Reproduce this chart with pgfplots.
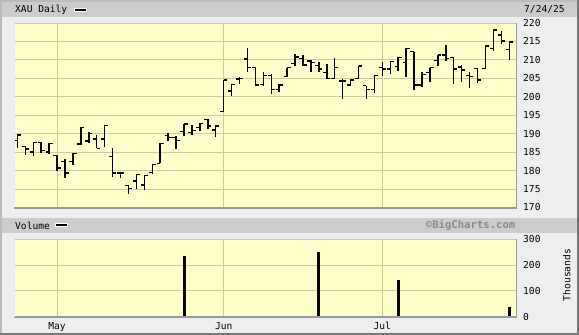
\documentclass[border=0pt]{standalone}
\usepackage{fontspec}
\setmainfont{DejaVu Sans}
\setmonofont{DejaVu Sans Mono}
\usepackage{pgfplots}
\pgfplotsset{compat=1.18}
\usepackage{pgfplotstable}
\definecolor{bgout}{HTML}{EEEEEE}
\definecolor{strip}{HTML}{CCCCCC}
\definecolor{plotbg}{HTML}{FFFFCC}
\definecolor{gridc}{HTML}{CCCC99}
\definecolor{framed}{HTML}{9A9A9A}
\definecolor{wm}{HTML}{8A8A8A}
\definecolor{edgelight}{HTML}{BBBBBB}
\definecolor{edgedark}{HTML}{777777}

\pgfdeclareplotmark{otick}{\pgfpathmoveto{\pgfqpoint{-3.6pt}{0pt}}\pgfpathlineto{\pgfqpoint{0pt}{0pt}}\pgfusepathqstroke}
\pgfdeclareplotmark{ctick}{\pgfpathmoveto{\pgfqpoint{0pt}{0pt}}\pgfpathlineto{\pgfqpoint{3.6pt}{0pt}}\pgfusepathqstroke}

\newcommand{\tf}{\ttfamily\fontsize{9.6}{10}\selectfont}

\pgfplotstableread{
i o h l c
0 188.2 189.8 186.1 189.6
1 186.5 186.7 184.3 185.8
2 185.0 187.8 184.0 187.6
3 187.6 187.8 184.8 185.4
4 185.0 187.5 184.4 187.4
5 184.1 184.1 179.8 180.7
6 182.5 183.1 177.9 179.4
7 182.4 184.7 181.5 184.6
8 187.2 191.7 186.9 191.6
9 188.0 190.5 187.4 190.1
10 188.6 189.7 186.0 186.0
11 188.6 192.3 186.5 192.3
12 183.9 186.0 178.4 179.4
13 179.4 179.7 177.9 179.4
14 176.0 176.1 173.6 175.2
15 177.2 178.9 175.0 178.9
16 176.1 178.6 174.8 178.6
17 179.5 181.7 179.0 181.7
18 182.0 187.4 182.0 187.4
19 189.5 190.3 188.1 189.0
20 189.0 189.4 185.8 188.1
21 190.6 192.6 189.4 192.6
22 190.3 192.3 189.7 190.9
23 191.7 192.8 190.6 192.8
24 193.9 193.9 191.2 192.1
25 191.0 192.3 189.2 192.1
26 196.0 204.5 196.0 204.5
27 201.6 203.4 200.2 203.4
28 204.8 205.5 203.4 205.0
29 210.2 213.1 206.6 207.9
30 207.9 208.2 203.0 203.2
31 203.4 206.6 203.0 205.7
32 205.8 206.1 200.7 202.0
33 202.0 203.4 201.3 203.2
34 205.5 207.9 205.5 207.9
35 209.1 211.7 208.4 210.8
36 210.3 211.3 208.4 208.6
37 209.7 210.0 206.7 209.3
38 208.5 209.5 206.8 207.5
39 206.6 208.8 204.8 204.9
40 204.9 210.6 204.8 207.9
41 204.3 204.8 199.5 204.3
42 203.2 204.9 202.8 204.6
43 205.0 208.4 205.0 208.4
44 203.0 203.0 199.5 201.9
45 201.9 205.8 201.0 205.8
46 207.9 209.4 205.7 207.5
47 207.5 209.7 206.1 209.5
48 208.2 210.8 207.0 210.6
49 209.3 213.1 205.5 213.1
50 212.2 212.2 201.8 203.2
51 203.2 206.6 202.7 206.1
52 206.6 207.9 204.1 207.9
53 209.9 211.3 208.4 211.3
54 211.3 214.0 209.7 210.4
55 210.6 210.6 203.6 207.5
56 208.1 208.5 204.0 207.3
57 205.7 206.7 202.5 205.5
58 207.6 207.6 203.7 204.6
59 207.6 213.8 207.6 213.8
60 213.1 218.1 212.4 218.1
61 216.8 217.8 214.2 215.1
62 212.9 214.9 210.0 214.9
}\ohlc

\pgfplotstableread{
i v
21 234
38 250
48 142
62 36
}\vol

\begin{document}
\begin{tikzpicture}
\fill[bgout] (0pt,0pt) rectangle (579pt,335pt);
\useasboundingbox (0pt,0pt) rectangle (579pt,335pt);
% outer edges
\draw[edgelight, line width=1.6pt] (0.8pt,0pt) -- (0.8pt,334.2pt) -- (579pt,334.2pt);
\draw[edgedark, line width=1.6pt] (0pt,0.8pt) -- (578.2pt,0.8pt) -- (578.2pt,335pt);
% strips
\fill[strip] (1.7pt,318.3pt) rectangle (577.4pt,333.3pt);
\fill[strip] (1.7pt,102pt) rectangle (577.4pt,117pt);

\begin{axis}[name=top, at={(14pt,127.5pt)}, anchor=south west,
  scale only axis, width=502pt, height=184.5pt,
  xmin=-0.43, xmax=62.85, ymin=170, ymax=220,
  axis background/.style={fill=plotbg},
  axis line style={draw=none},
  major tick length=0pt, tick style={draw=none},
  xtick={5,26,46}, xticklabels={},
  ytick={170,175,...,220},
  grid=major, major grid style={gridc, line width=1pt},
  yticklabel pos=right,
  yticklabel style={anchor=west, inner sep=0pt, xshift=7pt, font=\tf},
  /pgf/number format/assume math mode=true,
  /pgf/number format/1000 sep={}]
\addplot[draw=none, mark=none, forget plot,
  error bars/.cd, y dir=both, y explicit, error mark=none,
  error bar style={draw=black, line width=1.5pt}]
  table[x=i, y expr={(\thisrow{h}+\thisrow{l})/2}, y error expr={(\thisrow{h}-\thisrow{l})/2}]{\ohlc};
\addplot[only marks, mark=otick, mark options={black, line width=1.4pt}] table[x=i,y=o]{\ohlc};
\addplot[only marks, mark=ctick, mark options={black, line width=1.4pt}] table[x=i,y=c]{\ohlc};
\end{axis}
\draw[framed, line width=1.6pt] ([yshift=-0.4pt]top.south west) -- ([xshift=0.4pt,yshift=-0.4pt]top.south east) -- ([xshift=0.4pt]top.north east);
\draw[white!85!gray, line width=0.8pt] (top.south west) -- (top.north west);

\begin{axis}[name=vol, at={(14pt,18.3pt)}, anchor=south west,
  scale only axis, width=502pt, height=77.4pt,
  xmin=-0.43, xmax=62.85, ymin=0, ymax=300,
  axis background/.style={fill=plotbg},
  axis line style={draw=none},
  major tick length=0pt, tick style={draw=none},
  xtick={5,26,46}, xticklabels={May,Jun,Jul},
  xticklabel style={anchor=base, inner sep=0pt, yshift=-12.6pt, font=\tf},
  ytick={0,100,200,300},
  grid=major, major grid style={gridc, line width=1pt},
  yticklabel pos=right,
  yticklabel style={anchor=west, inner sep=0pt, xshift=7pt, font=\tf},
  /pgf/number format/assume math mode=true]
\addplot[ycomb, black, line width=3pt] table[x=i,y=v]{\vol};
\end{axis}
\draw[framed, line width=1.6pt] ([yshift=-0.4pt]vol.south west) -- ([xshift=0.4pt,yshift=-0.4pt]vol.south east) -- ([xshift=0.4pt]vol.north east);
\draw[white!85!gray, line width=0.8pt] (vol.south west) -- (vol.north west);

% texts
\node[anchor=west, inner sep=0pt, font=\tf] at (15pt,325.6pt) {XAU Daily};
\draw[white, line width=0.7pt, fill=black] (74pt,324.1pt) rectangle (86pt,327.1pt);
\node[anchor=west, inner sep=0pt, font=\tf] at (524pt,325.6pt) {7/24/25};
\node[anchor=west, inner sep=0pt, font=\tf] at (15pt,109.2pt) {Volume};
\draw[white, line width=0.7pt, fill=black] (55.7pt,108.3pt) rectangle (67.7pt,111.3pt);
\node[anchor=east, inner sep=0pt, font=\ttfamily\bfseries\fontsize{10.6}{11}\selectfont, text=wm] at (515.5pt,109.7pt) {©BigCharts.com};
\node[rotate=90, inner sep=0pt, font=\tf] at (566.7pt,60pt) {Thousands};
\end{tikzpicture}
\end{document}
